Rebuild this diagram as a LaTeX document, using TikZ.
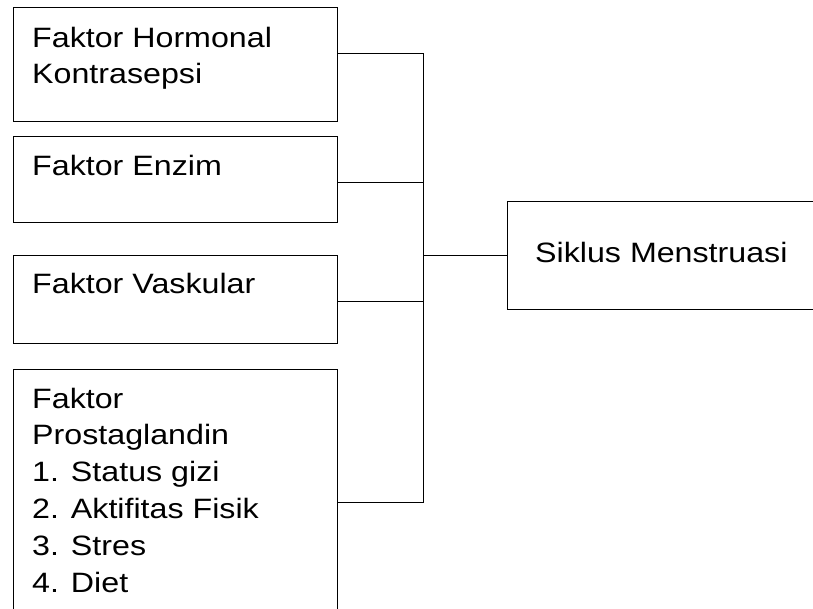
\documentclass[tikz,border=0pt]{standalone}
\usepackage{fontspec}
\setmainfont{Liberation Sans}[FakeStretch=1.15]
\begin{document}
\begin{tikzpicture}[x=1pt,y=-1pt,
  box/.style={draw, line width=1.4pt, inner sep=0pt, anchor=north west},
  txt/.style={font=\fontsize{28}{36.8}\selectfont, inner sep=0pt, anchor=base west, align=left},
  link/.style={line width=1pt}]
\useasboundingbox (0,0) rectangle (813,609);
\clip (0,0) rectangle (813,609);
\node[box, minimum width=324pt, minimum height=114pt] (b1) at (13,7) {};
\node[box, minimum width=324pt, minimum height=86pt] (b2) at (13,136) {};
\node[box, minimum width=324pt, minimum height=88pt] (b3) at (13,255) {};
\node[box, minimum width=324pt, minimum height=270pt] (b4) at (13,369) {};
\node[box, minimum width=330pt, minimum height=108pt] (m) at (507,201) {};
% multi-line nodes: base anchor is the baseline of the last line
\node[txt] (t1) at (32,84) {Faktor Hormonal\\Kontrasepsi};
\node[txt] (t2) at (32,176) {Faktor Enzim};
\node[txt] (t3) at (32,294) {Faktor Vaskular};
\node[txt] (t4) at (32,592) {Faktor\\Prostaglandin\\1. Status gizi\\2. Aktifitas Fisik\\3. Stres\\4. Diet};
\node[txt] (tm) at (535,263) {Siklus Menstruasi};
\coordinate (s1) at (423,54);
\coordinate (s2) at (423,183);
\coordinate (s3) at (423,302);
\coordinate (s4) at (423,502);
\coordinate (j) at (423,256);
\draw[link] (b1.east|-s1) -- (s1) -- (s4) -- (b4.east|-s4);
\draw[link] (b2.east|-s2) -- (s2);
\draw[link] (b3.east|-s3) -- (s3);
\draw[link] (j) -- (m.west|-j);
\end{tikzpicture}
\end{document}
